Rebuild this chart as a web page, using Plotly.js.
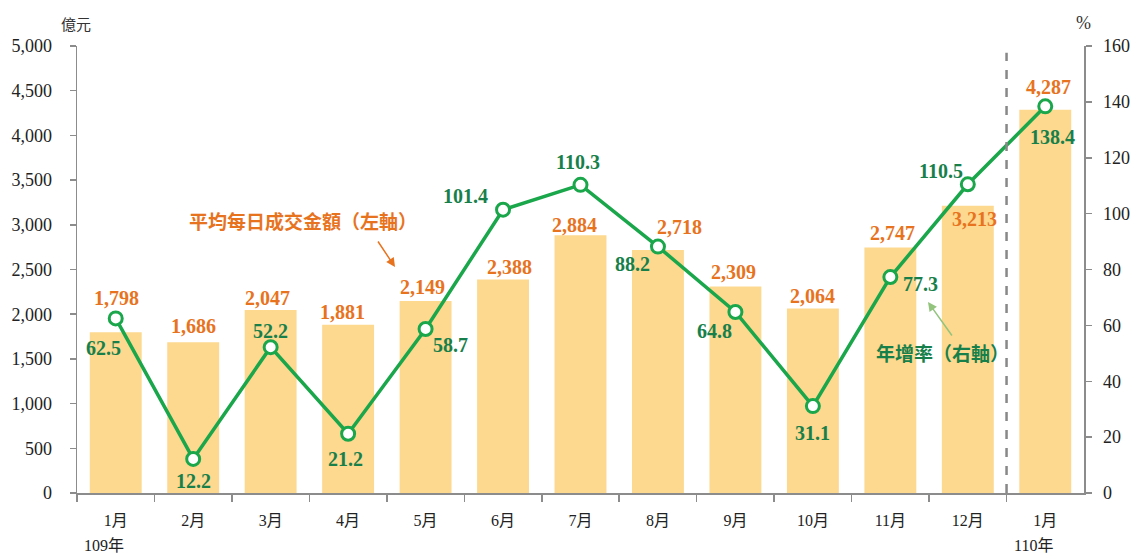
<!DOCTYPE html>
<html>
<head>
<meta charset="utf-8">
<script src="https://cdn.plot.ly/plotly-3.0.1.min.js"></script>
<style>html,body{margin:0;padding:0;background:#fff;}#chart{width:1132px;height:554px;}</style>
</head>
<body>
<div id="chart"></div>
<script>
// ---- data ----
const monthLabels = ["1月","2月","3月","4月","5月","6月","7月","8月","9月","10月","11月","12月","1月"];
const turnover = [1798, 1686, 2047, 1881, 2149, 2388, 2884, 2718, 2309, 2064, 2747, 3213, 4287]; // 億元
const growth = [62.5, 12.2, 52.2, 21.2, 58.7, 101.4, 110.3, 88.2, 64.8, 31.1, 77.3, 110.5, 138.4]; // %
const yearLabels = [{idx: 0, text: "109年"}, {idx: 12, text: "110年"}];
const leftTicks = [0, 500, 1000, 1500, 2000, 2500, 3000, 3500, 4000, 4500, 5000];
const rightTicks = [0, 20, 40, 60, 80, 100, 120, 140, 160];

// ---- label placement offsets (pixels) ----
const barLabelOffset = [[1,34],[0,16],[-3,12],[-6,13],[-3,14],[6,13],[-6,10],[22,23],[-2,15],[0,12],[2,14],[7,-13],[3,23]];
const lineLabelOffset = [[-12,-30],[0,-22],[0,16],[-3,-25],[25,-16],[-38,14],[-3,23],[-25,-17],[-21,-19],[0,-27],[30,-7],[-27,13],[7,-31]];

const xIdx = monthLabels.map((_, i) => i);
const serif = "Liberation Serif, Times New Roman, Noto Sans CJK TC, serif";
const cjk = "Noto Sans CJK TC, Noto Sans CJK SC, sans-serif";
const orange = "#E8731E";
const greenLine = "#1AA64A";
const greenText = "#17804A";
const axisGray = "#8c8c8c";

const fmt = v => v.toLocaleString("en-US");

const annotations = [];
turnover.forEach((v, i) => {
  annotations.push({x: i, y: v, xref: "x", yref: "y", text: "<b>" + fmt(v) + "</b>",
    showarrow: false, xanchor: "center", yanchor: "middle",
    xshift: barLabelOffset[i][0], yshift: barLabelOffset[i][1],
    font: {family: serif, size: 20, color: orange}});
});
growth.forEach((v, i) => {
  annotations.push({x: i, y: v, xref: "x", yref: "y2", text: "<b>" + v.toFixed(1) + "</b>",
    showarrow: false, xanchor: "center", yanchor: "middle",
    xshift: lineLabelOffset[i][0], yshift: lineLabelOffset[i][1],
    font: {family: serif, size: 20, color: greenText}});
});
yearLabels.forEach(y => {
  annotations.push({x: y.idx, y: 0, xref: "x", yref: "paper", text: y.text, showarrow: false,
    xanchor: "center", yanchor: "middle", xshift: -12, yshift: -52,
    font: {family: serif, size: 16, color: "#222"}});
});
annotations.push({x: 0, y: 1, xref: "paper", yref: "paper", xanchor: "center", yanchor: "middle",
  xshift: -1, yshift: 23, text: "億元", showarrow: false, font: {family: cjk, size: 15, color: "#333"}});
annotations.push({x: 1, y: 1, xref: "paper", yref: "paper", xanchor: "center", yanchor: "middle",
  xshift: -1, yshift: 23, text: "%", showarrow: false, font: {family: serif, size: 18, color: "#333"}});
// series name callouts
annotations.push({x: 187, y: 220, xref: "pixel", yref: "pixel", text: "<b>平均每日成交金額（左軸）</b>",
  xanchor: "left", yanchor: "middle",
  showarrow: false, font: {family: cjk, size: 19, color: orange}});
annotations.push({x: 874, y: 352, xref: "pixel", yref: "pixel", text: "<b>年增率（右軸）</b>",
  xanchor: "left", yanchor: "middle",
  showarrow: false, font: {family: cjk, size: 19, color: greenText}});

const layout = {
  width: 1132, height: 554,
  margin: {l: 77, r: 48, t: 46, b: 61},
  paper_bgcolor: "#fff", plot_bgcolor: "#fff",
  showlegend: false,
  bargap: 0.33,
  xaxis: {
    range: [-0.5, 12.5], tickmode: "array", tickvals: xIdx, ticktext: monthLabels,
    ticks: "", showline: true, linecolor: axisGray, linewidth: 1.5, showgrid: false, zeroline: false,
    ticklabelstandoff: 12,
    tickfont: {family: serif, size: 16, color: "#222"},
    minor: {tickmode: "array", tickvals: xIdx.concat([12]).map(i => i - 0.5), ticks: "outside",
            ticklen: 7, tickcolor: axisGray, tickwidth: 1.5, showgrid: false}
  },
  yaxis: {
    range: [0, 5000], tickmode: "array", tickvals: leftTicks, tickformat: ",",
    ticks: "outside", ticklen: 6, tickcolor: axisGray, tickwidth: 1.5,
    showline: true, linecolor: axisGray, linewidth: 1.5, showgrid: false, zeroline: false,
    ticklabelstandoff: 14,
    tickfont: {family: serif, size: 18, color: "#222"}
  },
  yaxis2: {
    range: [0, 160], tickmode: "array", tickvals: rightTicks, overlaying: "y", side: "right",
    ticks: "outside", ticklen: 6, tickcolor: axisGray, tickwidth: 1.5,
    showline: true, linecolor: axisGray, linewidth: 1.5, showgrid: false, zeroline: false,
    ticklabelstandoff: 8,
    tickfont: {family: serif, size: 18, color: "#222"}
  },
  shapes: [
    {type: "line", xref: "x", yref: "paper", x0: 11.5, x1: 11.5, y0: 0, y1: 0.985,
     line: {color: "#888", width: 2.5, dash: "dash"}}
  ],
  annotations: annotations
};

// arrows for callouts
layout.annotations.push({x: 395, y: 267, ax: 377, ay: 240, xref: "pixel", yref: "pixel", axref: "pixel", ayref: "pixel",
  text: "", showarrow: true, arrowhead: 2, arrowsize: 1.2, arrowwidth: 1.5, arrowcolor: orange});
layout.annotations.push({x: 928, y: 302, ax: 953, ay: 337, xref: "pixel", yref: "pixel", axref: "pixel", ayref: "pixel",
  text: "", showarrow: true, arrowhead: 2, arrowsize: 1.2, arrowwidth: 1.5, arrowcolor: "#93C47D"});

// convert pixel-referenced annotations into paper coordinates
const plotL = layout.margin.l, plotT = layout.margin.t;
const plotW = layout.width - layout.margin.l - layout.margin.r;
const plotH = layout.height - layout.margin.t - layout.margin.b;
layout.annotations.forEach(a => {
  if (a.xref === "pixel") { a.xref = "paper"; a.x = (a.x - plotL) / plotW; }
  if (a.yref === "pixel") { a.yref = "paper"; a.y = 1 - (a.y - plotT) / plotH; }
  if (a.axref === "pixel") { a.axref = "paper"; a.ax = (a.ax - plotL) / plotW; }
  if (a.ayref === "pixel") { a.ayref = "paper"; a.ay = 1 - (a.ay - plotT) / plotH; }
});

const traces = [
  {type: "bar", x: xIdx, y: turnover, yaxis: "y", marker: {color: "#FDD88F"}, hoverinfo: "skip"},
  {type: "scatter", mode: "lines+markers", x: xIdx, y: growth, yaxis: "y2",
   line: {color: greenLine, width: 3.5},
   marker: {size: 13, color: "#fff", line: {color: greenLine, width: 3}}, hoverinfo: "skip"}
];

Plotly.newPlot("chart", traces, layout, {displayModeBar: false, staticPlot: true});
</script>
</body>
</html>
